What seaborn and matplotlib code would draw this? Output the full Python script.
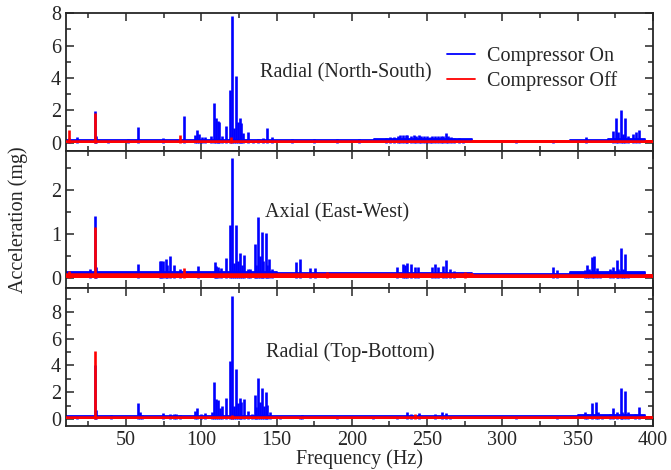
import matplotlib
matplotlib.use('Agg')
import pandas as pd
import matplotlib.pyplot as plt
from matplotlib.ticker import MultipleLocator
import seaborn as sns

# spectral peaks: frequency (Hz) and acceleration (mg)
# --- Radial (North-South)
ns_on_freq = [12.0, 17.7, 29.5, 30.4, 38.3, 51.4, 58.1, 74.7, 88.4, 95.7, 97.5, 98.6,
              100.6, 102.8, 106.8, 108.8, 109.9, 111.0, 111.9, 113.7, 116.3, 119.0,
              120.7, 121.6, 123.4, 124.5, 125.6, 126.7, 127.8, 130.9, 134.5, 138.0,
              141.1, 144.0, 146.9, 160.0, 175.0, 190.0, 205.0,
              223.0, 225.5, 228.0, 230.5, 232.0, 234.2, 236.0, 237.0, 239.3, 241.0,
              242.5, 244.8, 246.0, 248.0, 250.0, 252.0, 253.0, 255.2, 257.0, 259.0,
              260.5, 262.3, 264.0, 266.0, 268.0, 271.0, 274.0, 309.0, 333.8, 355.5,
              373.7, 375.5, 377.0, 378.6, 379.9, 381.4, 383.7, 387.0, 388.8, 390.5]
ns_on_amp = [0.3, 0.35, 1.97, 0.4, 0.15, 0.2, 0.95, 0.3, 1.65, 0.5, 0.8, 0.55,
             0.35, 0.35, 0.4, 2.43, 1.5, 1.35, 1.3, 0.4, 1.05, 3.27,
             7.84, 0.9, 4.1, 1.3, 1.5, 1.2, 0.6, 0.65, 0.15, 0.25,
             0.3, 0.9, 0.35, 0.22, 0.2, 0.22, 0.2,
             0.3, 0.35, 0.35, 0.4, 0.5, 0.45, 0.5, 0.45, 0.4, 0.45,
             0.4, 0.45, 0.4, 0.42, 0.38, 0.35, 0.4, 0.42, 0.4, 0.4,
             0.38, 0.58, 0.4, 0.35, 0.3, 0.28, 0.25, 0.18, 0.18, 0.35,
             0.7, 1.5, 0.65, 2.0, 0.55, 1.54, 0.38, 0.55, 0.65, 0.8]
ns_off_freq = [12.0, 29.5, 86.2, 119.5]
ns_off_amp = [0.78, 1.8, 0.5, 0.35]

# --- Axial (East-West)
ew_on_freq = [26.4, 29.5, 30.4, 58.1, 72.5, 73.5, 74.7, 76.4, 77.3, 79.1, 81.8, 85.7,
              97.9, 109.0, 110.1, 111.2, 113.4, 116.3, 119.0, 120.7, 121.8, 123.4,
              124.5, 125.8, 126.9, 128.3, 131.1, 132.7, 135.6, 136.7, 138.0, 138.9,
              140.2, 141.1, 142.9, 144.0, 145.1, 146.7, 162.8, 165.5, 172.1, 175.5,
              229.7, 234.2, 235.5, 237.0, 239.3, 241.9, 244.1, 253.0, 255.6, 257.4,
              260.3, 262.5, 265.2, 267.8, 333.8, 336.0, 354.9, 356.4, 357.7, 359.3,
              360.8, 362.6, 364.8, 371.5, 373.7, 375.9, 377.0, 378.6, 379.9, 381.4,
              383.7]
ew_on_amp = [0.2, 1.42, 0.25, 0.32, 0.38, 0.38, 0.38, 0.43, 0.3, 0.51, 0.29, 0.2,
             0.27, 0.36, 0.27, 0.25, 0.22, 0.45, 1.21, 2.73, 0.35, 1.21,
             0.4, 0.58, 0.3, 0.52, 0.2, 0.2, 0.77, 0.3, 1.39, 0.5,
             1.05, 0.4, 1.02, 0.3, 0.44, 0.2, 0.37, 0.43, 0.23, 0.23,
             0.25, 0.33, 0.3, 0.35, 0.32, 0.26, 0.26, 0.26, 0.33, 0.25,
             0.27, 0.41, 0.2, 0.17, 0.26, 0.18, 0.18, 0.3, 0.2, 0.48,
             0.5, 0.22, 0.15, 0.2, 0.26, 0.41, 0.2, 0.68, 0.2, 0.55,
             0.13]
ew_off_freq = [12.0, 29.5, 88.4, 183.2, 275.0]
ew_off_amp = [0.17, 1.16, 0.24, 0.14, 0.13]

# --- Radial (Top-Bottom)
tb_on_freq = [17.7, 29.5, 30.4, 40.3, 58.1, 59.2, 60.5, 74.7, 79.1, 81.8, 83.5, 85.7,
              95.7, 97.5, 100.1, 102.8, 107.2, 108.8, 109.9, 111.0, 112.3, 113.7,
              116.3, 119.0, 120.7, 121.8, 123.4, 124.5, 125.6, 126.7, 128.3, 131.1,
              133.4, 135.6, 136.7, 138.0, 139.1, 140.2, 141.6, 142.9, 144.0, 145.5,
              152.2, 165.5, 166.6, 190.5, 213.8, 229.7, 237.0, 239.3, 244.8, 255.2,
              260.1, 262.3, 265.2, 309.0, 336.0, 354.9, 356.4, 359.3, 362.0, 363.7,
              365.9, 371.5, 373.7, 375.9, 378.6, 379.7, 381.4, 383.7, 388.1, 390.5]
tb_on_amp = [0.2, 4.0, 0.7, 0.3, 1.2, 0.5, 0.3, 0.45, 0.4, 0.4, 0.35, 0.3,
             0.57, 0.82, 0.35, 0.45, 0.5, 2.75, 1.5, 1.45, 0.8, 1.0,
             1.55, 4.33, 9.2, 1.0, 3.7, 1.2, 1.58, 1.3, 1.5, 0.6,
             0.4, 1.82, 0.9, 3.05, 1.3, 2.3, 1.0, 2.02, 1.07, 0.5,
             0.25, 0.25, 0.3, 0.25, 0.15, 0.25, 0.5, 0.35, 0.45, 0.4,
             0.5, 0.45, 0.25, 0.15, 0.15, 0.5, 0.4, 1.2, 1.25, 0.5,
             0.3, 0.4, 0.82, 0.5, 2.3, 0.5, 2.07, 0.5, 0.4, 0.9]
tb_off_freq = [29.5, 120.7, 241.9]
tb_off_amp = [5.07, 0.3, 0.35]

# noise floor levels (step, from each frequency onward)
ns_floor_freq = [10, 150, 215, 280, 345, 370, 395, 400]
ns_floor_on = [0.17, 0.17, 0.22, 0.12, 0.15, 0.25, 0.12, 0.12]
ns_floor_off = [0.1, 0.1, 0.1, 0.1, 0.1, 0.1, 0.1, 0.1]
ew_floor_freq = [10, 150, 280, 345, 395, 400]
ew_floor_on = [0.13, 0.12, 0.1, 0.15, 0.08, 0.08]
ew_floor_off = [0.09, 0.09, 0.08, 0.08, 0.08, 0.08]
tb_floor_freq = [10, 150, 350, 395, 400]
tb_floor_on = [0.2, 0.2, 0.3, 0.15, 0.15]
tb_floor_off = [0.12, 0.12, 0.12, 0.12, 0.12]

titles = ['Radial (North-South)', 'Axial (East-West)', 'Radial (Top-Bottom)']
states = ['Compressor On', 'Compressor Off']
colors = {'Compressor On': '#0000ff', 'Compressor Off': '#ff0000'}

panels = [
    (ns_on_freq, ns_on_amp, ns_off_freq, ns_off_amp, ns_floor_freq, ns_floor_on, ns_floor_off),
    (ew_on_freq, ew_on_amp, ew_off_freq, ew_off_amp, ew_floor_freq, ew_floor_on, ew_floor_off),
    (tb_on_freq, tb_on_amp, tb_off_freq, tb_off_amp, tb_floor_freq, tb_floor_on, tb_floor_off),
]
ylims = [(-0.5, 8.0), (-0.23, 2.9), (-0.52, 9.78)]
ymajor = [2, 1, 2]
yminor = [1, 0.5, 1]
title_pos = [(0.477, 0.569), (0.4625, 0.551), (0.484, 0.536)]

fs = 14.5
sns.set_style('ticks')
plt.rcParams['font.family'] = ['Liberation Serif', 'DejaVu Serif']
plt.rcParams['font.size'] = fs

fig, axes = plt.subplots(3, 1, sharex=True, figsize=(6.71, 4.7), dpi=100)
fig.subplots_adjust(left=0.098, right=0.973, top=0.972, bottom=0.094, hspace=0)

for i, ax in enumerate(axes):
    on_f, on_a, off_f, off_a, fl_f, fl_on, fl_off = panels[i]

    floor = pd.concat([
        pd.DataFrame({'freq': fl_f, 'amp': fl_on, 'state': 'Compressor On'}),
        pd.DataFrame({'freq': fl_f, 'amp': fl_off, 'state': 'Compressor Off'}),
    ])
    sns.lineplot(data=floor, x='freq', y='amp', hue='state', hue_order=states,
                 palette=colors, estimator=None, drawstyle='steps-post',
                 linewidth=1.3, ax=ax, legend=(i == 0))

    ax.fill_between(fl_f, 0, fl_on, step='post', color=colors['Compressor On'], lw=0, zorder=2)
    ax.vlines(on_f, 0, on_a, color=colors['Compressor On'], lw=1.9, zorder=2.5)
    ax.fill_between(fl_f, 0, fl_off, step='post', color=colors['Compressor Off'], lw=0, zorder=3)
    ax.plot(fl_f, fl_off, drawstyle='steps-post', color=colors['Compressor Off'], lw=1.8, zorder=3)
    ax.vlines(off_f, 0, off_a, color=colors['Compressor Off'], lw=1.9, zorder=3.5)

    ax.set_xlim(10, 400)
    ax.set_ylim(*ylims[i])
    ax.xaxis.set_major_locator(MultipleLocator(50))
    ax.xaxis.set_minor_locator(MultipleLocator(25))
    ax.yaxis.set_major_locator(MultipleLocator(ymajor[i]))
    ax.yaxis.set_minor_locator(MultipleLocator(yminor[i]))
    ax.tick_params(which='both', direction='in', top=True, right=True, width=1.1, labelsize=fs)
    ax.tick_params(which='major', length=6)
    ax.tick_params(which='minor', length=3.5)
    for sp in ax.spines.values():
        sp.set_linewidth(1.3)
    ax.set_xlabel('')
    ax.set_ylabel('')
    ax.text(title_pos[i][0], title_pos[i][1], titles[i], transform=ax.transAxes,
            ha='center', va='center', fontsize=fs)

sns.move_legend(axes[0], 'upper left', bbox_to_anchor=(0.635, 0.81), frameon=False,
                title=None, handlelength=1.4, borderaxespad=0, fontsize=fs,
                labelspacing=0.25, handletextpad=0.6)

axes[2].set_xlabel('Frequency (Hz)', fontsize=fs, labelpad=0)
fig.text(0.027, 0.533, 'Acceleration (mg)', rotation=90, ha='center', va='center',
         fontsize=fs)

plt.savefig('out.png', dpi=100)
